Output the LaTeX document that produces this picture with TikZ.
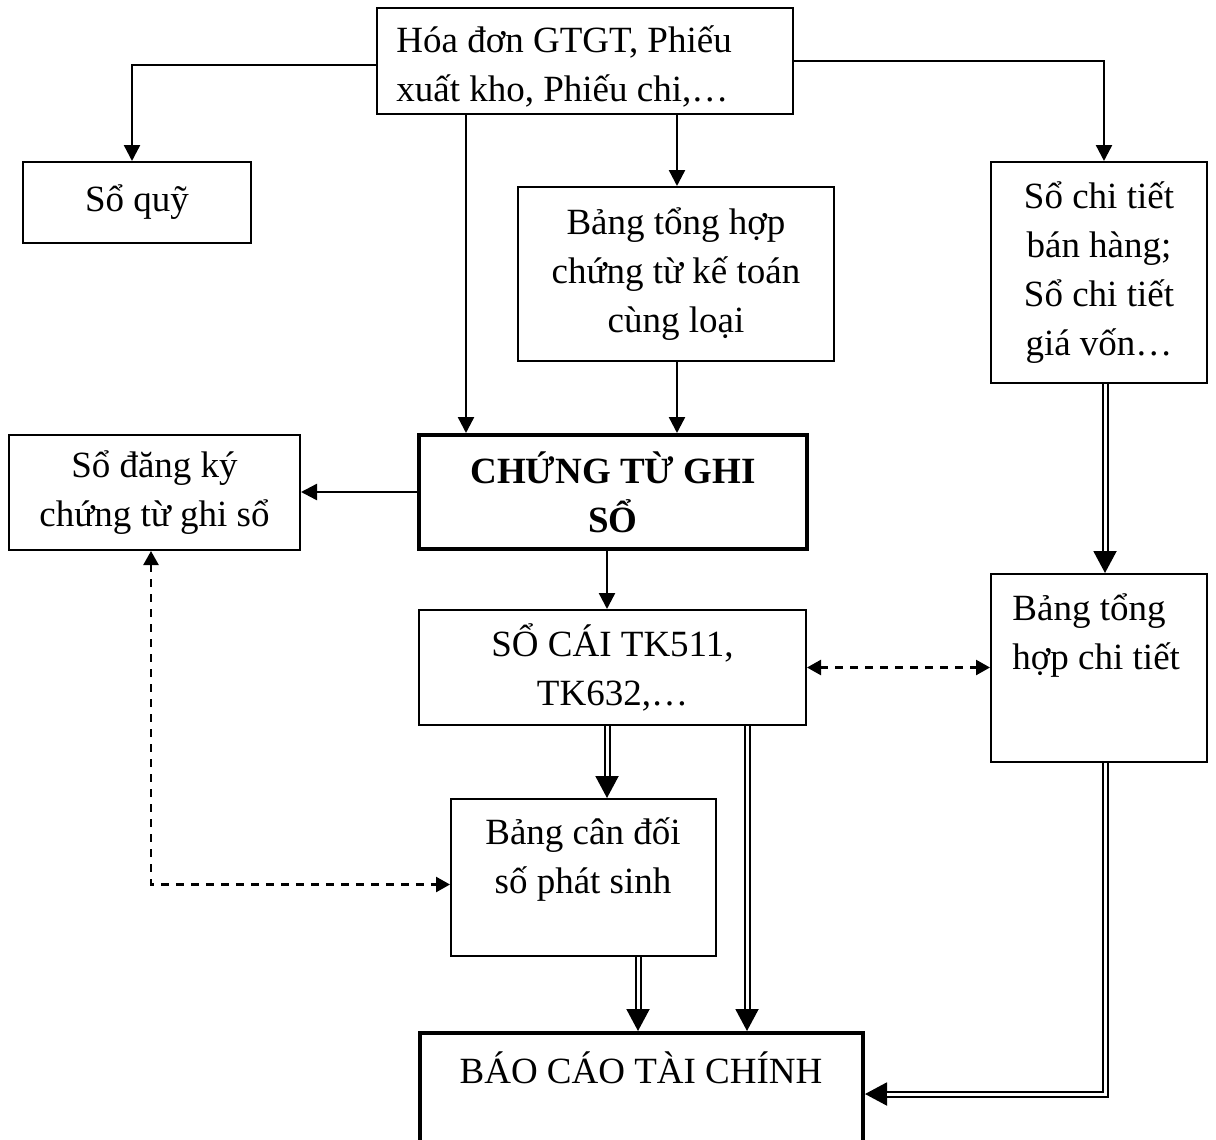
\documentclass[tikz,border=0pt]{standalone}
\usepackage{fontspec}
\setmainfont{Liberation Serif}
\usetikzlibrary{calc,arrows.meta}
\begin{document}
\begin{tikzpicture}[x=0.5pt,y=-0.5pt,
  font=\fontsize{18.5}{24.5}\selectfont,
  box/.style={draw, line width=1pt, inner sep=0pt, align=center},
  thickbox/.style={box, line width=2pt},
  lbl/.style={inner sep=0pt, align=center},
  arr/.style={line width=1.2pt, -{Triangle[length=8pt,width=8pt]}},
  dsh/.style={line width=1.2pt, dash pattern=on 4pt off 3.5pt, {Triangle[length=7pt,width=7.5pt]}-{Triangle[length=7pt,width=7.5pt]}},
  dtip/.style={line width=1pt, -{Triangle[length=11pt,width=11.5pt]}},
  dbl/.style={line width=1pt, double=white, double distance=1.5pt, shorten >=11pt},
]
\useasboundingbox (0,0) rectangle (1216,1140);

% boxes
\node[box, minimum width=208pt, minimum height=53pt] (top) at (585,61) {};
\node[lbl, anchor=west, align=left] (topT) at (396,66) {Hóa đơn GTGT, Phiếu\\xuất kho, Phiếu chi,…};
\node[box, minimum width=114pt, minimum height=40.5pt] (sq) at (137,202.5) {Sổ quỹ};
\node[box, minimum width=158pt, minimum height=87pt] (bth) at (676,274) {Bảng tổng hợp\\chứng từ kế toán\\cùng loại};
\node[box, minimum width=108pt, minimum height=110.5pt] (sct) at (1099,272.5) {Sổ chi tiết\\bán hàng;\\Sổ chi tiết\\giá vốn…};
\node[box, minimum width=145.5pt, minimum height=57.5pt] (sdk) at (154.5,492.5) {Sổ đăng ký\\chứng từ ghi sổ};
\node[thickbox, minimum width=194pt, minimum height=57pt, font=\fontsize{18.5}{24.5}\selectfont\bfseries] (ctgs) at (613,492) {CHỨNG TỪ GHI\\SỔ};
\node[box, minimum width=193.5pt, minimum height=57.5pt] (sc) at (612.5,667.5) {SỔ CÁI TK511,\\TK632,…};
\node[box, minimum width=108pt, minimum height=94pt] (tht) at (1099,668) {};
\node[box, minimum width=132.5pt, minimum height=78.5pt] (bcd) at (583.5,877.5) {};
\node[thickbox, minimum width=221.5pt, minimum height=71pt] (bc) at (641.5,1104) {};

% texts of the boxes with offset text
\node[lbl, anchor=west, align=left] (thtT) at (1012,636) {Bảng tổng\\hợp chi tiết};
\node[lbl] (bcdT) at (583,860) {Bảng cân đối\\số phát sinh};
\node[lbl] (bcT) at (641,1068) {BÁO CÁO TÀI CHÍNH};

% helper x positions
\coordinate (x151) at (151,0);
\coordinate (x466) at (466,0);
\coordinate (x607) at (607,0);
\coordinate (x638) at (638,0);
\coordinate (x677) at (677,0);
\coordinate (x747) at (747,0);
\coordinate (x1105) at (1105,0);
\coordinate (bcR) at ($(bc.north east)+(0,63)$);

% single arrows
\draw[arr] ([yshift=-2pt]top.west) -| ([xshift=-2.5pt]sq.north);
\draw[arr] (top.east) -| ([xshift=2.5pt]sct.north);
\draw[arr] (top.south -| x466) -- (ctgs.north -| x466);
\draw[arr] (top.south -| x677) -- (bth.north -| x677);
\draw[arr] (bth.south -| x677) -- (ctgs.north -| x677);
\draw[arr] (ctgs.west) -- (ctgs.west -| sdk.east);
\draw[arr] (ctgs.south -| x607) -- (sc.north -| x607);

% dashed
\draw[dsh] (sc.east) -- (sc.east -| tht.west);
\draw[dsh] (sdk.south -| x151) |- ([yshift=-3.5pt]bcd.west);

% double arrows
\draw[dtip] (sct.south -| x1105) -- (tht.north -| x1105);
\draw[dbl]  (sct.south -| x1105) -- (tht.north -| x1105);
\draw[dtip] (sc.south -| x607) -- (bcd.north -| x607);
\draw[dbl]  (sc.south -| x607) -- (bcd.north -| x607);
\draw[dtip] (sc.south -| x747) -- (bc.north -| x747);
\draw[dbl]  (sc.south -| x747) -- (bc.north -| x747);
\draw[dtip] (bcd.south -| x638) -- (bc.north -| x638);
\draw[dbl]  (bcd.south -| x638) -- (bc.north -| x638);
\draw[dtip] (tht.south -| x1105) |- (bcR);
\draw[dbl]  (tht.south -| x1105) |- (bcR);
\end{tikzpicture}
\end{document}
